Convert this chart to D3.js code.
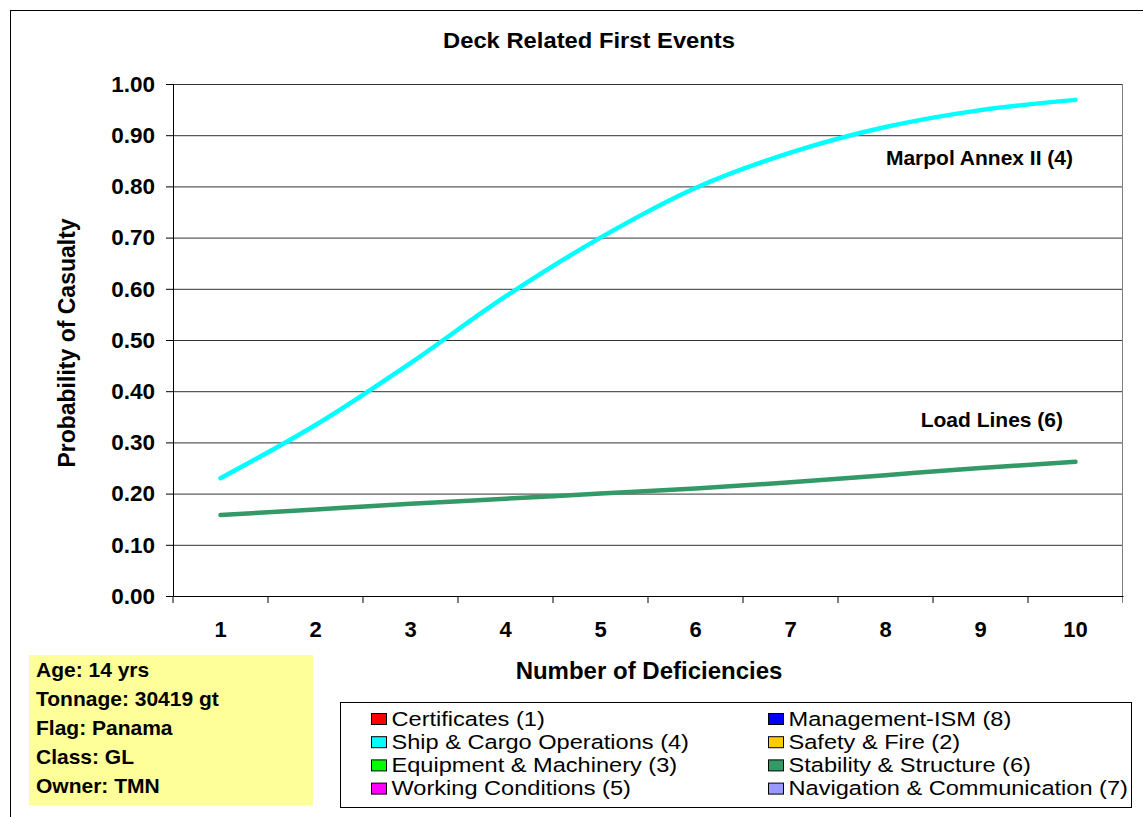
<!DOCTYPE html>
<html><head><meta charset="utf-8">
<script src="https://cdn.jsdelivr.net/npm/d3@7"></script>
<style>body{margin:0;background:#fff}svg{display:block;font-family:"Liberation Sans",Arial,sans-serif}</style>
</head><body>
<script>
const categories = [1,2,3,4,5,6,7,8,9,10];
const marpol = [0.23,0.334,0.455,0.585,0.70,0.797,0.866,0.916,0.949,0.969];
const loadLines = [0.158,0.169,0.18,0.19,0.20,0.21,0.222,0.236,0.25,0.262];
const yTicks = [0,0.1,0.2,0.3,0.4,0.5,0.6,0.7,0.8,0.9,1.0];
const legendItems = [
  ["Certificates (1)","#FF0000"],["Ship & Cargo Operations (4)","#00FFFF"],
  ["Equipment & Machinery (3)","#00FF00"],["Working Conditions (5)","#FF00FF"],
  ["Management-ISM (8)","#0000FF"],["Safety & Fire (2)","#FFCC00"],
  ["Stability & Structure (6)","#339966"],["Navigation & Communication (7)","#9999FF"]];
const infoLines = ["Age: 14 yrs","Tonnage: 30419 gt","Flag: Panama","Class: GL","Owner: TMN"];

const W=1143,H=817;
const svg=d3.select("body").append("svg").attr("width",W).attr("height",H);
svg.append("rect").attr("x",10.5).attr("y",10.5).attr("width",1140).attr("height",820).attr("fill","#fff").attr("stroke","#000");

const L=173,R=1123,T=84,B=596;
const x=d3.scaleBand().domain(categories).range([L,R]);
const y=d3.scaleLinear().domain([0,1]).range([B,T]);

// gridlines
svg.append("g").selectAll("line").data(yTicks.filter(d=>d>0)).join("line")
  .attr("x1",L).attr("x2",R).attr("y1",d=>y(d)+0.5).attr("y2",d=>y(d)+0.5).attr("stroke","#333").attr("stroke-width",1);
svg.append("line").attr("x1",R-0.5).attr("x2",R-0.5).attr("y1",T).attr("y2",B+7).attr("stroke","#808080");

// y axis
const ya=svg.append("g").attr("transform",`translate(${L},0)`)
  .call(d3.axisLeft(y).tickValues(yTicks).tickFormat(d3.format(".2f")).tickSize(7).tickPadding(11));
ya.select(".domain").attr("stroke","#000");
ya.selectAll("text").attr("font-size",22.5).attr("font-weight","bold").attr("fill","#000").attr("font-family","Liberation Sans, Arial");

// x axis
const xa=svg.append("g").attr("transform",`translate(0,${B})`)
  .call(d3.axisBottom(x).tickSize(0).tickPadding(25));
xa.select(".domain").attr("stroke","#000");
xa.selectAll("text").attr("font-size",22).attr("font-weight","bold").attr("fill","#000").attr("font-family","Liberation Sans, Arial");
svg.append("g").selectAll("line").data(categories).join("line")
  .attr("x1",d=>x(d)).attr("x2",d=>x(d)).attr("y1",B).attr("y2",B+7).attr("stroke","#000");

// lines
const line=d3.line().x((d,i)=>x(categories[i])+x.bandwidth()/2).y(d=>y(d)).curve(d3.curveCatmullRom.alpha(0.5));
svg.append("path").attr("d",line(loadLines)).attr("fill","none").attr("stroke","#339966").attr("stroke-width",4.5).attr("stroke-linecap","round");
svg.append("path").attr("d",line(marpol)).attr("fill","none").attr("stroke","#00FFFF").attr("stroke-width",4.5).attr("stroke-linecap","round");

// labels
svg.append("text").attr("x",1073).attr("y",165).attr("text-anchor","end").attr("font-size",21).attr("font-weight","bold").text("Marpol Annex II (4)");
svg.append("text").attr("x",1063).attr("y",427).attr("text-anchor","end").attr("font-size",21).attr("font-weight","bold").text("Load Lines (6)");

// titles
svg.append("text").attr("x",589).attr("y",48).attr("text-anchor","middle").attr("font-size",22).attr("font-weight","bold")
  .attr("textLength",292).attr("lengthAdjust","spacingAndGlyphs").text("Deck Related First Events");
svg.append("text").attr("transform","translate(75,343) rotate(-90)").attr("text-anchor","middle").attr("font-size",23).attr("font-weight","bold").text("Probability of Casualty");
svg.append("text").attr("x",649).attr("y",679).attr("text-anchor","middle").attr("font-size",24).attr("font-weight","bold").text("Number of Deficiencies");

// info box
svg.append("rect").attr("x",29).attr("y",655).attr("width",284).attr("height",150).attr("fill","#FFFF99");
svg.append("g").selectAll("text").data(infoLines).join("text")
  .attr("x",36).attr("y",(d,i)=>677+i*29).attr("font-size",21).attr("font-weight","bold").text(d=>d);

// legend
svg.append("rect").attr("x",340.5).attr("y",702.5).attr("width",791).attr("height",105).attr("fill","#fff").attr("stroke","#000");
const lg=svg.append("g").selectAll("g").data(legendItems).join("g")
  .attr("transform",(d,i)=>`translate(${i<4?371:768},${725+(i%4)*23.2})`);
lg.append("rect").attr("x",0.5).attr("y",-11.5).attr("width",15).attr("height",11).attr("fill",d=>d[1]).attr("stroke","#000").attr("stroke-width",1);
lg.append("text").attr("x",20.5).attr("y",0.5).attr("font-size",20.5).text(d=>d[0])
  .each(function(){ const w=this.getComputedTextLength(); d3.select(this).attr("textLength",w*1.15).attr("lengthAdjust","spacingAndGlyphs"); });
</script>
</body></html>
